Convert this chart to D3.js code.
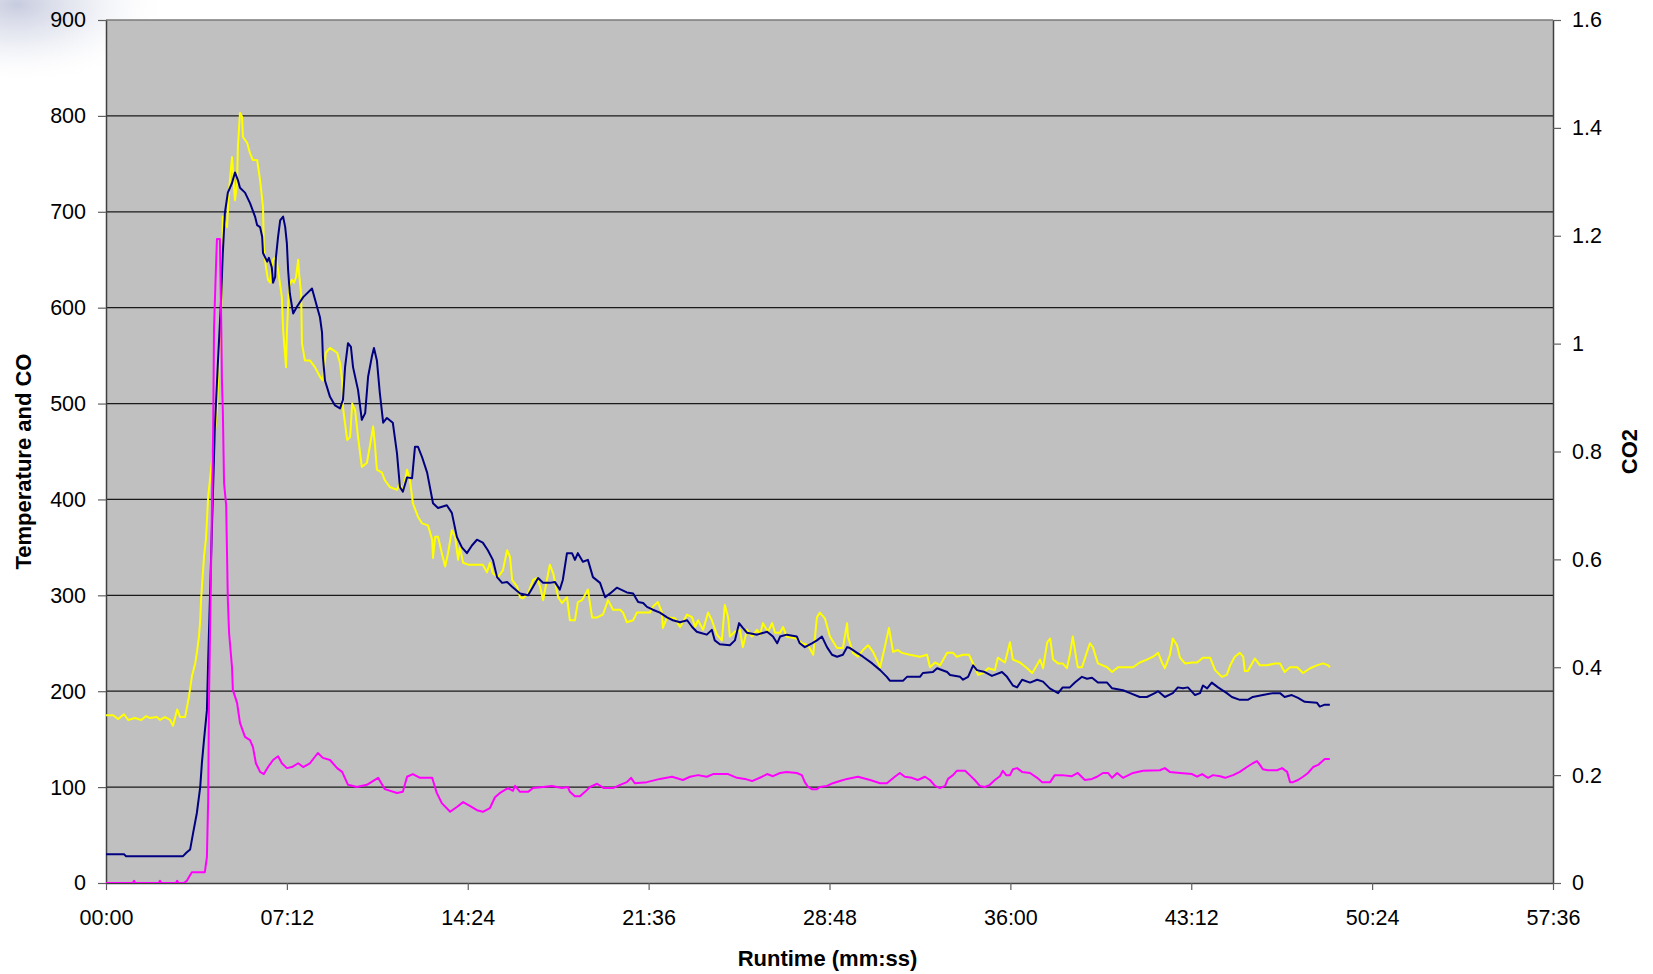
<!DOCTYPE html>
<html>
<head>
<meta charset="utf-8">
<script src="https://cdn.jsdelivr.net/npm/d3@7"></script>
<style>
  html, body { margin: 0; padding: 0; background: #ffffff; }
  svg { display: block; }
  text { font-family: "Liberation Sans", Arial, sans-serif; fill: #000; }
</style>
</head>
<body>
<svg id="chart" width="1653" height="974"></svg>
<script>
// Runtime in seconds, readings as [seconds, value]

// Temperature (left axis)
const temperature = [
  [0,30],[43,30],[48,28],[184,28],[193,32],[201,35],[208,52],[217,73],[225,100],[229,125],[234,149],
  [241,180],[244,232],[251,340],[260,475],[267,540],[275,610],[279,657],[284,699],[291,720],[301,730],
  [308,741],[315,733],[320,725],[332,720],[344,709],[356,695],[361,686],[368,684],[373,674],[375,657],
  [385,648],[389,652],[396,642],[399,626],[404,632],[406,653],[411,674],[416,691],[423,695],[428,684],
  [432,667],[435,639],[439,615],[447,594],[456,601],[471,611],[492,620],[504,601],[511,590],[516,574],
  [518,549],[523,524],[535,507],[547,498],[559,495],[566,504],[571,538],[578,563],[585,559],[590,538],
  [602,514],[611,483],[619,490],[626,528],[635,549],[640,558],[647,545],[654,511],[662,480],[671,485],
  [685,480],[695,448],[702,413],[709,408],[719,423],[731,422],[738,455],[745,455],[755,444],[767,428],
  [781,396],[793,391],[814,394],[826,386],[838,361],[850,350],[862,344],[874,352],[886,358],[900,355],
  [912,347],[924,337],[934,319],[946,313],[958,314],[970,309],[989,302],[1008,300],[1020,309],[1032,318],
  [1044,313],[1060,313],[1072,314],[1084,306],[1091,316],[1101,344],[1113,344],[1120,337],[1127,344],
  [1139,335],[1151,337],[1163,319],[1180,313],[1192,298],[1204,302],[1220,308],[1244,303],[1259,302],
  [1271,293],[1283,292],[1292,288],[1306,285],[1323,282],[1340,277],[1354,274],[1371,272],[1388,274],
  [1400,267],[1411,262],[1419,261],[1435,259],[1447,264],[1454,253],[1466,249],[1490,248],[1502,253],
  [1512,271],[1521,266],[1531,261],[1555,259],[1579,262],[1593,257],[1603,250],[1610,257],[1626,259],
  [1650,257],[1657,250],[1669,246],[1686,250],[1698,253],[1710,257],[1722,246],[1734,238],[1746,236],
  [1760,238],[1770,246],[1777,245],[1794,240],[1808,236],[1830,229],[1849,222],[1865,215],[1872,211],
  [1904,211],[1913,215],[1944,215],[1951,219],[1975,220],[1985,224],[2009,220],[2016,217],[2040,215],
  [2047,212],[2059,215],[2071,227],[2080,222],[2099,220],[2116,216],[2140,220],[2152,215],[2166,206],
  [2176,204],[2188,212],[2207,209],[2224,212],[2238,210],[2254,203],[2274,198],[2285,204],[2302,204],
  [2314,209],[2331,215],[2343,213],[2355,214],[2369,209],[2391,209],[2403,203],[2429,201],[2446,198],
  [2469,194],[2486,194],[2505,198],[2513,200],[2529,194],[2548,198],[2560,204],[2572,203],[2584,204],
  [2601,196],[2613,198],[2620,206],[2630,203],[2641,209],[2656,204],[2677,198],[2689,194],[2708,191],
  [2727,191],[2739,194],[2763,196],[2787,198],[2804,198],[2815,194],[2832,196],[2847,193],[2863,189],
  [2892,188],[2899,184],[2911,186],[2923,186]
];

// CO (left axis)
const carbonMonoxide = [
  [0,175],[17,175],[29,171],[43,176],[53,170],[69,172],[84,170],[96,174],[105,172],[122,173],[129,170],
  [141,173],[153,170],[160,164],[170,181],[177,173],[189,173],[198,194],[205,215],[213,229],[217,240],
  [222,257],[225,274],[227,295],[234,340],[239,360],[244,403],[256,452],[265,493],[272,563],[277,626],
  [279,695],[289,684],[294,723],[301,757],[303,744],[308,712],[313,730],[315,768],[320,803],[325,799],
  [327,778],[337,772],[344,761],[351,754],[361,754],[368,733],[375,705],[377,663],[382,642],[387,629],
  [392,626],[399,650],[406,653],[411,639],[420,611],[423,577],[430,538],[432,574],[437,622],[444,629],
  [449,626],[454,632],[459,650],[461,636],[466,615],[468,563],[475,545],[487,545],[499,538],[511,528],
  [518,524],[525,553],[535,558],[552,553],[559,542],[564,524],[566,496],[576,462],[583,465],[588,500],
  [595,493],[602,465],[611,434],[623,438],[630,455],[638,476],[642,459],[647,431],[659,428],[666,420],
  [678,413],[695,410],[702,417],[709,408],[719,431],[726,420],[733,396],[745,382],[755,375],[769,373],
  [779,358],[781,339],[786,361],[793,361],[802,344],[810,330],[817,344],[826,368],[834,361],[841,337],
  [845,350],[853,334],[865,332],[900,332],[910,324],[917,334],[924,323],[936,319],[948,326],[958,347],
  [965,340],[970,316],[982,309],[989,298],[996,297],[1008,302],[1020,316],[1029,318],[1037,309],
  [1044,295],[1053,316],[1060,332],[1068,323],[1080,298],[1089,292],[1101,298],[1108,274],[1120,274],
  [1127,293],[1137,295],[1151,306],[1161,277],[1173,277],[1187,280],[1199,295],[1211,285],[1228,285],
  [1235,282],[1244,272],[1259,274],[1268,282],[1299,282],[1306,288],[1318,293],[1328,282],[1330,266],
  [1340,277],[1359,276],[1371,267],[1388,280],[1400,277],[1407,267],[1414,274],[1426,264],[1438,282],
  [1447,274],[1459,259],[1471,253],[1478,290],[1486,277],[1490,257],[1502,262],[1514,264],[1521,246],
  [1531,264],[1543,257],[1555,264],[1562,259],[1569,271],[1581,262],[1591,271],[1598,261],[1610,261],
  [1617,267],[1626,257],[1650,255],[1662,250],[1677,248],[1689,238],[1698,277],[1705,282],[1717,276],
  [1729,257],[1746,245],[1760,245],[1770,271],[1772,257],[1784,240],[1796,236],[1808,243],[1820,248],
  [1832,241],[1849,225],[1860,246],[1870,266],[1880,241],[1891,243],[1901,240],[1920,238],[1944,236],
  [1961,238],[1968,225],[1980,230],[1992,227],[2009,240],[2023,240],[2032,236],[2047,238],[2061,238],
  [2075,225],[2083,217],[2095,219],[2107,224],[2123,222],[2130,235],[2147,230],[2159,251],[2166,233],
  [2183,230],[2200,224],[2212,219],[2219,224],[2231,233],[2238,224],[2248,251],[2255,255],[2262,233],
  [2274,229],[2285,229],[2295,224],[2302,238],[2309,257],[2317,235],[2321,225],[2331,225],[2343,241],
  [2350,250],[2357,246],[2369,229],[2391,225],[2403,220],[2417,225],[2453,225],[2469,230],[2486,233],
  [2501,236],[2513,240],[2522,230],[2529,224],[2541,238],[2548,255],[2558,248],[2565,235],[2577,229],
  [2594,230],[2606,230],[2620,235],[2637,235],[2649,222],[2665,215],[2677,217],[2685,227],[2696,236],
  [2708,240],[2716,236],[2720,221],[2727,221],[2744,234],[2756,227],[2773,227],[2792,229],[2804,229],
  [2815,220],[2828,225],[2845,225],[2859,219],[2876,224],[2892,227],[2907,229],[2919,227],[2923,225]
];

// CO2 (right axis)
const carbonDioxide = [
  [0,0],[64,0],[67,0.004],[70,0],[126,0],[129,0.004],[132,0],[167,0],[170,0.004],[173,0],[186,0],
  [193,0.004],[205,0.020],[236,0.020],[241,0.048],[244,0.154],[246,0.339],[256,0.845],[258,1.03],
  [263,1.15],[265,1.194],[272,1.194],[275,1.05],[277,0.927],[279,0.877],[282,0.741],[287,0.70],
  [291,0.525],[294,0.463],[301,0.400],[303,0.358],[313,0.334],[320,0.297],[332,0.271],[344,0.265],
  [351,0.252],[358,0.222],[368,0.206],[377,0.202],[387,0.215],[399,0.228],[411,0.235],[420,0.222],
  [432,0.213],[444,0.215],[459,0.222],[471,0.215],[487,0.222],[506,0.241],[518,0.232],[535,0.228],
  [552,0.213],[564,0.206],[578,0.182],[599,0.178],[623,0.182],[650,0.195],[666,0.174],[695,0.167],
  [709,0.169],[719,0.197],[733,0.202],[750,0.195],[779,0.195],[790,0.167],[802,0.148],[822,0.132],
  [838,0.141],[853,0.150],[869,0.143],[886,0.135],[900,0.132],[917,0.139],[929,0.159],[941,0.167],
  [960,0.176],[972,0.171],[977,0.180],[989,0.169],[1008,0.169],[1020,0.176],[1044,0.178],[1065,0.180],
  [1089,0.176],[1103,0.178],[1108,0.169],[1120,0.161],[1132,0.161],[1144,0.169],[1156,0.178],
  [1173,0.184],[1189,0.176],[1211,0.176],[1228,0.182],[1244,0.187],[1254,0.195],[1263,0.185],
  [1292,0.187],[1323,0.193],[1352,0.197],[1378,0.191],[1395,0.197],[1414,0.200],[1435,0.197],
  [1450,0.202],[1486,0.202],[1507,0.195],[1526,0.193],[1543,0.189],[1567,0.197],[1579,0.202],
  [1593,0.198],[1610,0.204],[1626,0.206],[1650,0.204],[1662,0.200],[1669,0.187],[1677,0.178],
  [1686,0.174],[1698,0.174],[1705,0.178],[1722,0.180],[1736,0.185],[1753,0.189],[1770,0.193],
  [1796,0.197],[1825,0.191],[1849,0.185],[1865,0.185],[1884,0.197],[1896,0.204],[1908,0.197],
  [1925,0.195],[1939,0.191],[1956,0.197],[1968,0.191],[1980,0.180],[1992,0.176],[2004,0.180],
  [2011,0.193],[2023,0.200],[2032,0.208],[2052,0.208],[2063,0.200],[2075,0.191],[2087,0.180],
  [2099,0.178],[2111,0.182],[2123,0.191],[2135,0.198],[2142,0.208],[2150,0.200],[2159,0.200],
  [2166,0.211],[2176,0.213],[2188,0.206],[2207,0.204],[2224,0.195],[2236,0.187],[2255,0.187],
  [2266,0.200],[2283,0.200],[2307,0.198],[2321,0.204],[2338,0.191],[2355,0.193],[2367,0.197],
  [2381,0.204],[2393,0.204],[2403,0.195],[2415,0.204],[2429,0.195],[2453,0.204],[2477,0.208],
  [2517,0.209],[2529,0.213],[2541,0.206],[2565,0.204],[2594,0.202],[2606,0.197],[2618,0.202],
  [2632,0.195],[2644,0.200],[2661,0.198],[2673,0.195],[2692,0.200],[2708,0.206],[2725,0.215],
  [2739,0.222],[2749,0.226],[2756,0.219],[2763,0.211],[2775,0.209],[2797,0.209],[2809,0.213],
  [2821,0.206],[2828,0.187],[2835,0.187],[2847,0.191],[2859,0.197],[2871,0.204],[2883,0.215],
  [2895,0.219],[2911,0.230],[2923,0.230]
];

// Axis tick values
const runtimeTicks = [0, 432, 864, 1296, 1728, 2160, 2592, 3024, 3456];
const leftTicks = [0, 100, 200, 300, 400, 500, 600, 700, 800, 900];
const rightTicks = [0, 0.2, 0.4, 0.6, 0.8, 1, 1.2, 1.4, 1.6];

const svg = d3.select("#chart");
const plot = { left: 106, right: 1553, top: 20, bottom: 883 };

// soft bluish tint in the upper-left corner of the slide background
const defs = svg.append("defs");
const rg = defs.append("radialGradient").attr("id", "cornerTint")
  .attr("cx", 0.1).attr("cy", 0.05).attr("r", 0.9);
rg.append("stop").attr("offset", "0%").attr("stop-color", "#c4c9dd").attr("stop-opacity", 0.95);
rg.append("stop").attr("offset", "45%").attr("stop-color", "#dde0ec").attr("stop-opacity", 0.6);
rg.append("stop").attr("offset", "100%").attr("stop-color", "#ffffff").attr("stop-opacity", 0);
svg.append("rect").attr("x", 0).attr("y", 0).attr("width", 170).attr("height", 90)
  .attr("fill", "url(#cornerTint)");

const x = d3.scaleLinear().domain([0, 3456]).range([plot.left, plot.right]);
const yL = d3.scaleLinear().domain([0, 900]).range([plot.bottom, plot.top]);
const yR = d3.scaleLinear().domain([0, 1.6]).range([plot.bottom, plot.top]);

// plot background
svg.append("rect")
  .attr("x", plot.left).attr("y", plot.top)
  .attr("width", plot.right - plot.left).attr("height", plot.bottom - plot.top)
  .attr("fill", "#c0c0c0");

// horizontal gridlines
svg.append("g").selectAll("line")
  .data(leftTicks.filter(d => d > 0 && d < 900))
  .join("line")
  .attr("x1", plot.left).attr("x2", plot.right)
  .attr("y1", d => yL(d)).attr("y2", d => yL(d))
  .attr("stroke", "#1a1a1a").attr("stroke-width", 1.2);

// top border
svg.append("line")
  .attr("x1", plot.left).attr("x2", plot.right)
  .attr("y1", plot.top).attr("y2", plot.top)
  .attr("stroke", "#7a7a7a").attr("stroke-width", 1.5);

const fmtRuntime = s => {
  const m = Math.floor(s / 60), r = Math.round(s % 60);
  return String(m).padStart(2, "0") + ":" + String(r).padStart(2, "0");
};

function styleAxis(g) {
  g.select(".domain").attr("stroke", "#404040").attr("stroke-width", 1.5);
  g.selectAll(".tick line").attr("stroke", "#606060").attr("stroke-width", 1.2);
  g.selectAll(".tick text")
    .attr("font-family", "'Liberation Sans', Arial, sans-serif")
    .attr("font-size", 21.5).attr("fill", "#000");
}

// bottom axis
svg.append("g")
  .attr("transform", `translate(0,${plot.bottom})`)
  .call(d3.axisBottom(x).tickValues(runtimeTicks).tickFormat(fmtRuntime)
    .tickSizeInner(7).tickSizeOuter(0).tickPadding(20))
  .call(styleAxis);

// left axis
svg.append("g")
  .attr("transform", `translate(${plot.left},0)`)
  .call(d3.axisLeft(yL).tickValues(leftTicks).tickFormat(d3.format("d"))
    .tickSizeInner(8).tickSizeOuter(0).tickPadding(12))
  .call(styleAxis);

// right axis
svg.append("g")
  .attr("transform", `translate(${plot.right},0)`)
  .call(d3.axisRight(yR).tickValues(rightTicks).tickFormat(d => String(d))
    .tickSizeInner(8).tickSizeOuter(0).tickPadding(11))
  .call(styleAxis);

// series lines
const lineL = d3.line().x(d => x(d[0])).y(d => yL(d[1]));
const lineR = d3.line().x(d => x(d[0])).y(d => yR(d[1]));

defs.append("clipPath").attr("id", "plotClip")
  .append("rect").attr("x", plot.left).attr("y", plot.top - 2)
  .attr("width", plot.right - plot.left).attr("height", plot.bottom - plot.top + 2);

const series = svg.append("g").attr("clip-path", "url(#plotClip)");

series.append("path").datum(carbonMonoxide)
  .attr("d", lineL).attr("fill", "none")
  .attr("stroke", "#ffff00").attr("stroke-width", 2).attr("stroke-linejoin", "round");

series.append("path").datum(temperature)
  .attr("d", lineL).attr("fill", "none")
  .attr("stroke", "#000080").attr("stroke-width", 2).attr("stroke-linejoin", "round");

series.append("path").datum(carbonDioxide)
  .attr("d", lineR).attr("fill", "none")
  .attr("stroke", "#ff00ff").attr("stroke-width", 2).attr("stroke-linejoin", "round");

// axis titles
svg.append("text")
  .attr("transform", `translate(31,${(plot.top + plot.bottom) / 2 + 10}) rotate(-90)`)
  .attr("text-anchor", "middle")
  .attr("font-size", 22).attr("font-weight", "bold")
  .text("Temperature and CO");

svg.append("text")
  .attr("transform", `translate(1637,${(plot.top + plot.bottom) / 2}) rotate(-90)`)
  .attr("text-anchor", "middle")
  .attr("font-size", 22).attr("font-weight", "bold")
  .text("CO2");

svg.append("text")
  .attr("x", (plot.left + plot.right) / 2 - 2).attr("y", 966)
  .attr("text-anchor", "middle")
  .attr("font-size", 22).attr("font-weight", "bold")
  .text("Runtime (mm:ss)");
</script>
</body>
</html>
